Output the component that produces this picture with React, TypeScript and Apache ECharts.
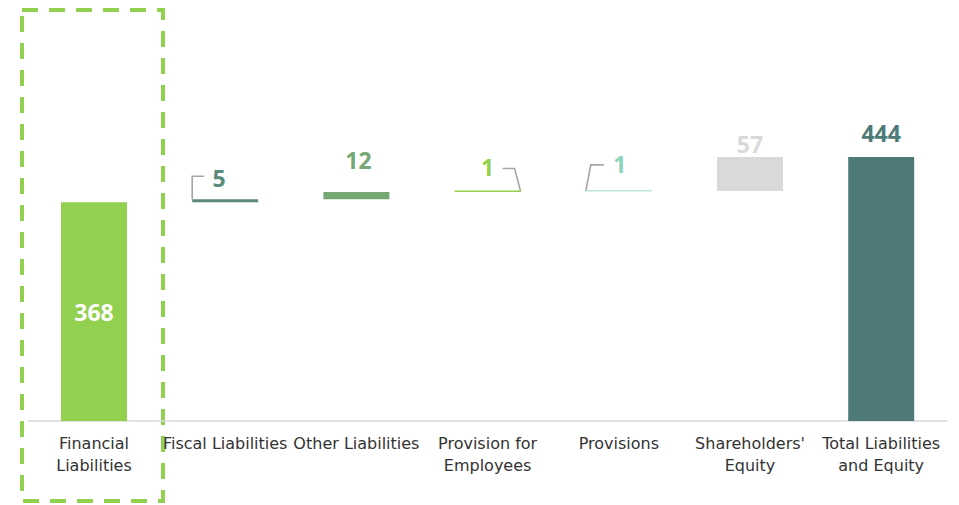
import React, { useEffect, useRef } from "react";
import * as echarts from "echarts";

const categories = [
  "Financial\nLiabilities",
  "Fiscal Liabilities",
  "Other Liabilities",
  "Provision for\nEmployees",
  "Provisions",
  "Shareholders'\nEquity",
  "Total Liabilities\nand Equity",
];
const baseValues = [0, 368, 373, 385, 386, 387, 0];
const deltaValues = [368, 5, 12, 1, 1, 57, 444];
const barColors = ["#92D050", "#5B8A7A", "#76A874", "#92D050", "#BDE6D6", "#D9D9D9", "#4E7B77"];
const labelColors = ["#FFFFFF", "#5B8A7A", "#76A874", "#92D050", "#8ED4B8", "#D9D9D9", "#4E7B77"];
const labelOffsets: number[][] = [[0, 0], [-6, -5], [2, -16], [0, -7], [1, -9], [0, 3], [0, -8]];

const FONT = "'Noto Sans', sans-serif";
const AXIS_FONT = "'DejaVu Sans', sans-serif";

export default function App() {
  const ref = useRef<HTMLDivElement>(null);
  useEffect(() => {
    const chart = echarts.init(ref.current!, null, { renderer: "svg" });
    const option: any = {
      animation: false,
      grid: { left: 28.4, right: 12.2, top: 4.8, bottom: 84, containLabel: false },
      xAxis: {
        type: "category",
        data: categories,
        axisLine: { lineStyle: { color: "#D9D9D9", width: 1.5 } },
        axisTick: { show: false },
        axisLabel: {
          color: "#333333",
          fontFamily: AXIS_FONT,
          fontSize: 16,
          lineHeight: 22,
          margin: 11,
          interval: 0,
        },
      },
      yAxis: { type: "value", min: 0, max: 700, show: false, splitLine: { show: false } },
      series: [
        {
          type: "bar",
          stack: "w",
          barWidth: 66,
          itemStyle: { color: "transparent" },
          data: baseValues,
          silent: true,
        },
        {
          type: "bar",
          stack: "w",
          barWidth: 66,
          barMinHeight: 1.5,
          data: deltaValues.map((v, i) => ({
            value: v,
            itemStyle: { color: barColors[i] },
            label: {
              show: true,
              position: i === 0 ? "inside" : "top",
              color: labelColors[i],
              offset: labelOffsets[i],
              fontFamily: FONT,
              fontWeight: "bold",
              fontSize: 23,
            },
          })),
        },
      ],
    };
    chart.setOption(option);

    const px = (i: number, v: number) => chart.convertToPixel({ xAxisIndex: 0, yAxisIndex: 0 }, [i, v]) as number[];
    const half = 33;
    const grey = { stroke: "#A6A6A6", lineWidth: 1.6, fill: "none" };
    const pFiscal = px(1, baseValues[1] + deltaValues[1]);
    const pEmp = px(3, baseValues[3] + deltaValues[3]);
    const pProv = px(4, baseValues[4] + deltaValues[4]);
    const pFin = px(0, 0);
    chart.setOption({
      graphic: [
        {
          type: "polyline",
          shape: { points: [[pFiscal[0] - half, pFiscal[1]], [pFiscal[0] - half, pFiscal[1] - 23], [pFiscal[0] - half + 12, pFiscal[1] - 23]] },
          style: grey,
        },
        {
          type: "polyline",
          shape: { points: [[pEmp[0] + half, pEmp[1]], [pEmp[0] + half - 6, pEmp[1] - 23], [pEmp[0] + half - 18, pEmp[1] - 23]] },
          style: grey,
        },
        {
          type: "polyline",
          shape: { points: [[pProv[0] - half, pProv[1]], [pProv[0] - half + 5, pProv[1] - 26], [pProv[0] - half + 18, pProv[1] - 26]] },
          style: grey,
        },
        {
          type: "rect",
          shape: { x: pFin[0] - 72, y: 10, width: 141, height: 491 },
          style: { fill: "none", stroke: "#92D050", lineWidth: 4, lineDash: [16, 11] },
        },
      ],
    });
    return () => chart.dispose();
  }, []);
  return <div ref={ref} style={{ position: "absolute", left: 0, top: 0, width: 959, height: 505 }} />;
}
